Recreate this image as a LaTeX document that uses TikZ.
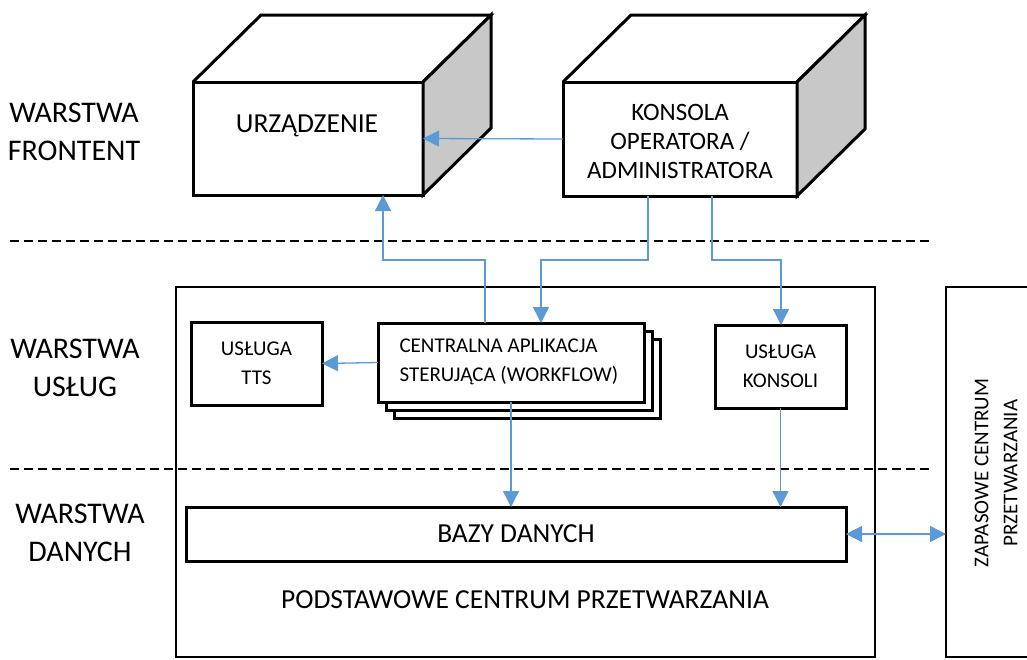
\documentclass[tikz,border=0pt]{standalone}
\usepackage{fontspec}
\setmainfont{Carlito}
\usetikzlibrary{arrows, arrows.meta}
\usetikzlibrary{positioning}
\usepackage{xcolor}
\definecolor{linkblue}{HTML}{5B9BD5}
\definecolor{sidegray}{HTML}{C8C8C8}

\begin{document}
\begin{tikzpicture}[x=1pt, y=-1pt,
  box/.style={draw, line width=3pt, fill=white, inner sep=0pt, outer sep=0pt},
  link/.style={linkblue, line width=1.3pt, -{Triangle[length=16pt, width=16pt]}},
  layer/.style={line width=2pt, dash pattern=on 9pt off 5pt},
  lab/.style={font=\fontsize{30}{38}\selectfont, align=center},
  big/.style={font=\fontsize{27.5}{30}\selectfont, align=center},
  mid/.style={font=\fontsize{25}{29}\selectfont, align=center},
  small/.style={font=\fontsize{21}{29}\selectfont, align=center}]

\useasboundingbox (0,0) rectangle (1027,659);

%centres
\node[box, line width=2.5pt, minimum width=699, minimum height=370] (pcp) at (525.5,472) {};
\node[box, line width=2.5pt, minimum width=120, minimum height=370] (zap) at (1006,472) {};

%layers
\draw[layer] (10,241) -- (930,241);
\draw[layer] (10,469) -- (930,469);

%urzadzenie
\node[box, minimum width=230, minimum height=113] (urz) at (308,138.5) {};
\draw[line width=3pt] (urz.north west) -- ++(68,-67) -- ([shift={(68,-67)}]urz.north east) -- (urz.north east);
\filldraw[fill=sidegray, line width=3pt] (urz.north east) -- ++(68,-67) -- ([shift={(68,-67)}]urz.south east) -- (urz.south east) -- cycle;

%konsola
\node[box, minimum width=234, minimum height=114] (kons) at (680,139) {};
\draw[line width=3pt] (kons.north west) -- ++(68,-67) -- ([shift={(68,-67)}]kons.north east) -- (kons.north east);
\filldraw[fill=sidegray, line width=3pt] (kons.north east) -- ++(68,-67) -- ([shift={(68,-67)}]kons.south east) -- (kons.south east) -- cycle;

%uslugi
\node[box, minimum width=131, minimum height=83, small] (tts) at (256.5,363.5) {USŁUGA\\TTS};
\node[box, minimum width=266, minimum height=79] (app3) at (527,378.5) {};
\node[box, minimum width=266, minimum height=79] (app2) at (519,370.5) {};
\node[box, minimum width=266, minimum height=79] (app) at (511,362.5) {};
\node[box, minimum width=131, minimum height=83, small] (kon) at (780.5,366.5) {USŁUGA\\KONSOLI};
\node[box, minimum width=660, minimum height=54, big] (bazy) at (516,534) {BAZY DANYCH};

%labels
\node[big] (urztxt) at (307,126) {URZĄDZENIE};
\node[mid] (konstxt) at (680,141) {KONSOLA\\OPERATORA /\\ADMINISTRATORA};
\node[small, align=left, anchor=west] (apptxt) at (396,362) {CENTRALNA APLIKACJA\\STERUJĄCA (WORKFLOW)};
\node[big] (pcptxt) at (525,600) {PODSTAWOWE CENTRUM PRZETWARZANIA};
\node[small, rotate=90] (zaptxt) at (996,473) {ZAPASOWE CENTRUM\\PRZETWARZANIA};
\node[lab] (front) at (74,132) {WARSTWA\\FRONTENT};
\node[lab] (uslug) at (75,368) {WARSTWA\\USŁUG};
\node[lab] (dane) at (80,533) {WARSTWA\\DANYCH};

%arrows
\coordinate (bendA) at (383,260);
\coordinate (bendB) at (541,260);
\coordinate (bendC) at (781,260);
\draw[link] (kons.west) -- (urz.east);
\draw[link] ([xshift=-26pt]app.north) |- (bendA) -- (bendA |- urz.south);
\draw[link] ([xshift=-32pt]kons.south) |- (bendB) -- (bendB |- app.north);
\draw[link] ([xshift=32pt]kons.south) |- (bendC) -- (bendC |- kon.north);
\draw[link] (app.west) -- (tts.east);
\draw[link] (app.south) -- (app.south |- bazy.north);
\draw[link] (kon.south) -- (kon.south |- bazy.north);
\draw[link, {Triangle[length=16pt, width=16pt]}-{Triangle[length=16pt, width=16pt]}] (bazy.east) -- (zap.west |- bazy.east);

\end{tikzpicture}
\end{document}
